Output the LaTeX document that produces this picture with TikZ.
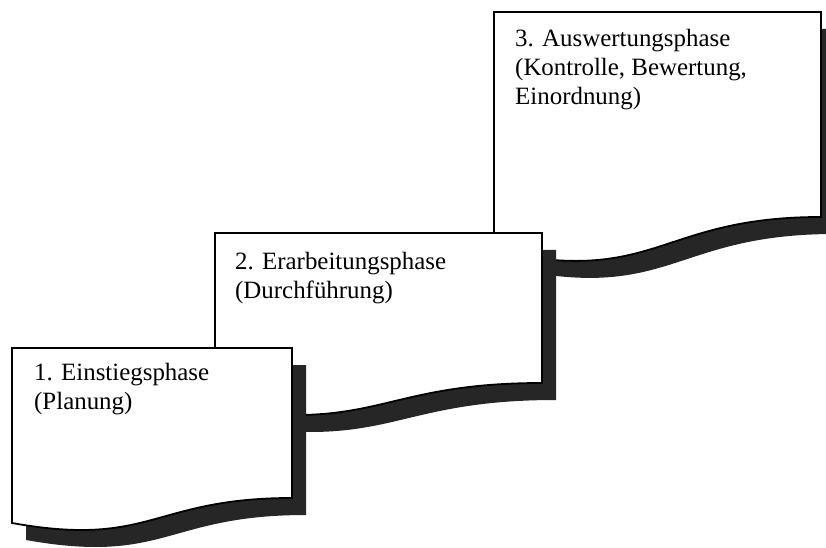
\documentclass[tikz,border=0pt]{standalone}
\usepackage{fontspec}
\setmainfont{Liberation Serif}
\usepackage{xcolor}
\usepackage{tikz}
\definecolor{linec}{HTML}{000000}
\definecolor{shadc}{HTML}{262626}
\tikzset{
  pg/.style={draw=linec,line width=1.8pt,fill=white},
  shd/.style={fill=shadc,shift={(14,17)}},
  lbl/.style={anchor=north west,align=left,inner sep=0pt,font=\fontsize{25}{29}\selectfont}
}

\begin{document}
\begin{tikzpicture}[x=1bp,y=-1bp]
\useasboundingbox (0,0) rectangle (826,548);
% phase 3 (top step)
\fill[shd] (494,12) -- (821,12) -- (821,217) .. controls (657.5,217) and (657.5,286) .. (494,251) -- cycle;
\draw[pg] (494,12) -- (821,12) -- (821,217) .. controls (657.5,217) and (657.5,286) .. (494,251) -- cycle;
% phase 2
\fill[shd] (215,233) -- (542,233) -- (542,383) .. controls (378.5,383) and (378.5,433) .. (215,408) -- cycle;
\draw[pg] (215,233) -- (542,233) -- (542,383) .. controls (378.5,383) and (378.5,433) .. (215,408) -- cycle;
% phase 1 (bottom step)
\fill[shd] (12,348) -- (292,348) -- (292,498) .. controls (152,498) and (152,548) .. (12,523) -- cycle;
\draw[pg] (12,348) -- (292,348) -- (292,498) .. controls (152,498) and (152,548) .. (12,523) -- cycle;
\node[lbl] (auswertung) at (515,29) {3. Auswertungsphase\\(Kontrolle, Bewertung,\\Einordnung)};
\node[lbl] (erarbeitung) at (235,252) {2. Erarbeitungsphase\\(Durchführung)};
\node[lbl] (einstieg) at (34,363) {1. Einstiegsphase\\(Planung)};
\end{tikzpicture}
\end{document}
